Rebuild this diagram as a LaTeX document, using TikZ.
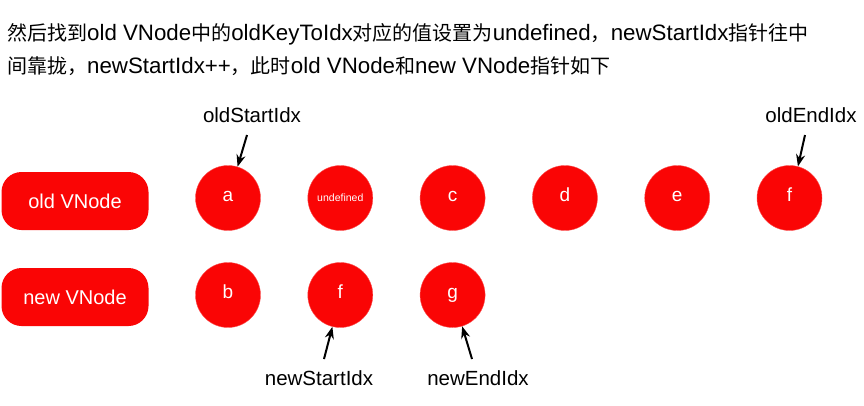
\documentclass[tikz,border=0pt]{standalone}
\usepackage{fontspec}
\setmainfont{Liberation Sans}
\newfontfamily\cjk{Noto Sans CJK SC}
\newcommand{\zh}[1]{{\cjk\fontsize{20}{20}\selectfont #1}}
\usetikzlibrary{arrows.meta}
\definecolor{nodered}{RGB}{250,5,5}

\begin{document}
\begin{tikzpicture}[x=1pt, y=-1pt,
    vnode/.style={fill=nodered, rounded corners=20pt, minimum width=147pt,
        minimum height=58pt, text=white, font=\fontsize{20}{20}\selectfont},
    elem/.style={circle, fill=nodered, draw=nodered!70!white, minimum size=65pt,
        inner sep=0pt, text=white, text height=1.4ex, text depth=0.25ex,
        font=\fontsize{19}{19}\selectfont},
    idx/.style={font=\fontsize{20.5}{20.5}\selectfont},
    ptr/.style={-{Stealth[length=12pt, width=9pt]}, line width=2pt}
]
    \useasboundingbox (0, 0) rectangle (864, 405);

    % title
    \node[anchor=west, font=\fontsize{22.3}{22.3}\selectfont, inner sep=0pt] (line1) at (7, 34)
        {\zh{然后找到}old VNode\zh{中的}oldKeyToIdx\zh{对应的值设置为}undefined\zh{，}newStartIdx\zh{指针往中}};
    \node[anchor=west, font=\fontsize{22.3}{22.3}\selectfont, inner sep=0pt] (line2) at (7, 66)
        {\zh{间靠拢，}newStartIdx++\zh{，此时}old VNode\zh{和}new VNode\zh{指针如下}};

    % the two lists
    \node[vnode] (old) at (75, 201) {old VNode};
    \node[vnode] (new) at (75, 297) {new VNode};

    \foreach \name/\label [count=\i from 0] in {o1/a, o2/{}, o3/c, o4/d, o5/e, o6/f} {
        \node[elem] (\name) at (228 + 112.3*\i, 198) {\label};
    }
    \node[font=\fontsize{10.5}{10.5}\selectfont, text=white] at (o2) {undefined};

    \foreach \name/\label [count=\i from 0] in {n1/b, n2/f, n3/g} {
        \node[elem] (\name) at (228 + 112.3*\i, 295) {\label};
    }

    % pointers
    \node[idx] (oldStart) at (252, 115) {oldStartIdx};
    \node[idx] (oldEnd) at (811, 115) {oldEndIdx};
    \node[idx] (newStart) at (319, 378) {newStartIdx};
    \node[idx] (newEnd) at (478, 378) {newEndIdx};

    \coordinate (os) at (247, 135);
    \coordinate (oe) at (805, 135);
    \coordinate (ns) at (324, 359);
    \coordinate (ne) at (472, 359);

    \draw[ptr] (os) -- (o1.73);
    \draw[ptr] (oe) -- (o6.75);
    \draw[ptr] (ns) -- (n2.256);
    \draw[ptr] (ne) -- (n3.287);
\end{tikzpicture}
\end{document}
